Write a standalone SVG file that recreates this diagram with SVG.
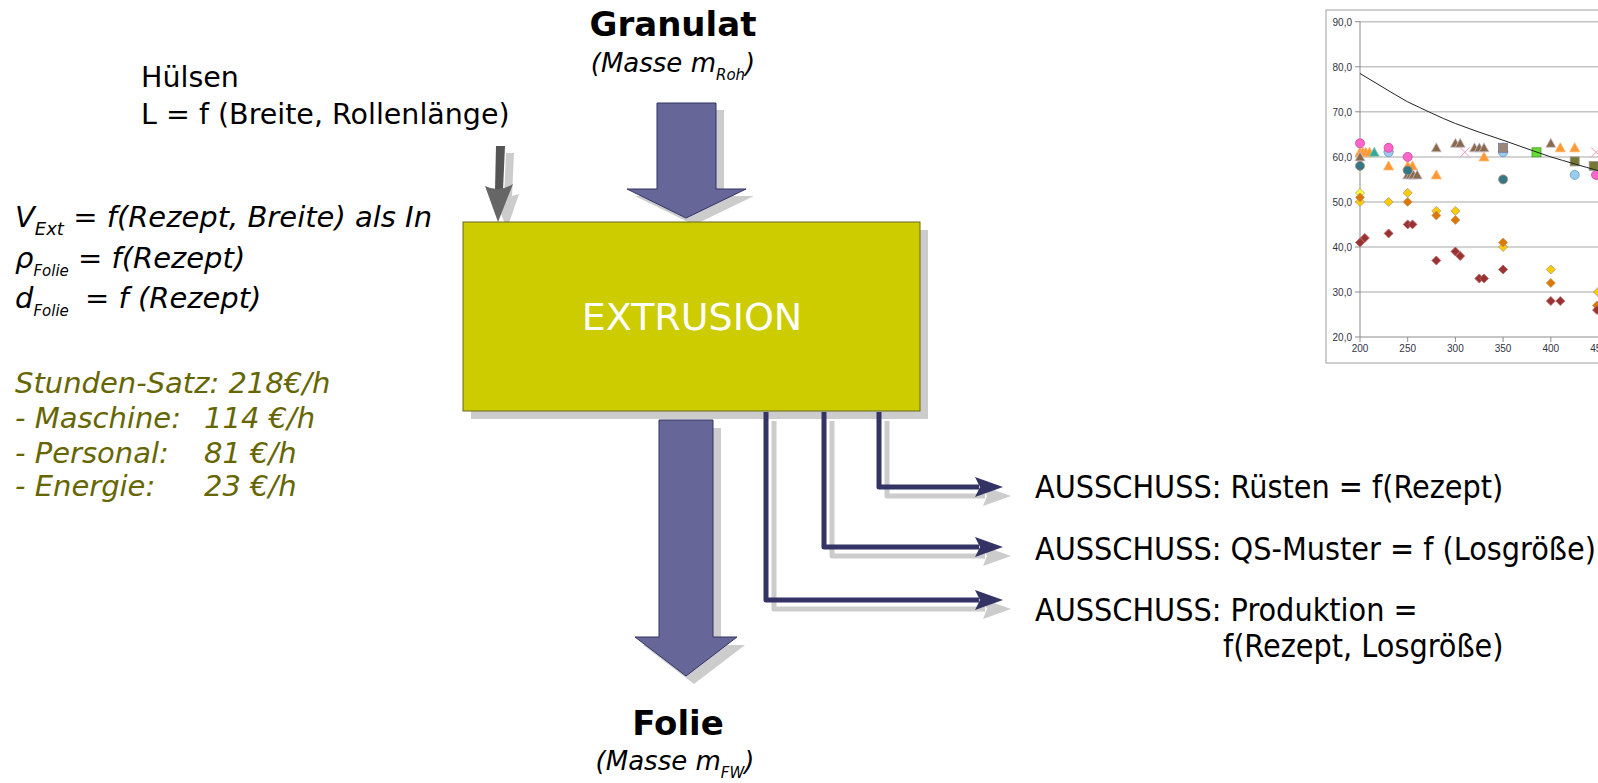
<svg xmlns="http://www.w3.org/2000/svg" width="1598" height="783" viewBox="0 0 1598 783">
<style>
.t{font-family:"DejaVu Sans","Noto Sans",sans-serif;fill:#000}
.tc{font-family:"DejaVu Sans Condensed","DejaVu Sans","Noto Sans",sans-serif;font-stretch:condensed;fill:#000}
.it{font-family:"DejaVu Sans","Noto Sans",sans-serif;font-style:italic;fill:#000}
.ol{fill:#666600}
.bold{font-family:"DejaVu Sans","Noto Sans",sans-serif;font-weight:bold;fill:#000}
.shadow{fill:#cccccc;stroke:none}
.big{fill:#666699;stroke:#333366;stroke-width:1}
.con{fill:none;stroke:#333366;stroke-width:5;stroke-linejoin:round}
.conS{fill:none;stroke:#cccccc;stroke-width:5;stroke-linejoin:round}
.head{fill:#333366}
.grid{stroke:#c4c4c4;stroke-width:1.5}
.ax{stroke:#8c8c8c;stroke-width:1}
.cl{font-family:"Liberation Sans","DejaVu Sans",sans-serif;font-size:10px;fill:#333344}
.mk{stroke-width:0.8}
</style>
<defs>
<path id="tri" d="M-5,4 L5,4 L0,-5 Z"/>
<circle id="cir" r="4.5"/>
<path id="dia" d="M-4.5,0 L0,-4.5 L4.5,0 L0,4.5 Z"/>
<rect id="sq" x="-4.5" y="-4.5" width="9" height="9"/>
<path id="xx" d="M-5,-5 L5,5 M-5,5 L5,-5" fill="none"/>
</defs>
<rect width="1598" height="783" fill="#ffffff"/>

<!-- Chart -->
<g id="chart">
<rect x="1326" y="10" width="290" height="353" fill="#ffffff" stroke="#a0a0a0" stroke-width="1"/>
<g>
<line class="grid" x1="1360" y1="21.7" x2="1598" y2="21.7"/>
<line class="grid" x1="1360" y1="66.8" x2="1598" y2="66.8"/>
<line class="grid" x1="1360" y1="111.8" x2="1598" y2="111.8"/>
<line class="grid" x1="1360" y1="156.9" x2="1598" y2="156.9"/>
<line class="grid" x1="1360" y1="201.9" x2="1598" y2="201.9"/>
<line class="grid" x1="1360" y1="247" x2="1598" y2="247"/>
<line class="grid" x1="1360" y1="292" x2="1598" y2="292"/>
<line class="ax" x1="1360" y1="337" x2="1598" y2="337"/>
<line class="ax" x1="1360" y1="21.7" x2="1360" y2="337"/>
<path class="ax" d="M1355,21.7H1360M1355,66.8H1360M1355,111.8H1360M1355,156.9H1360M1355,201.9H1360M1355,247H1360M1355,292H1360M1355,337H1360M1360,337V342M1407.7,337V342M1455.4,337V342M1503.1,337V342M1550.8,337V342"/>
</g>
<g class="cl" text-anchor="end">
<text x="1352" y="25.5">90,0</text>
<text x="1352" y="70.6">80,0</text>
<text x="1352" y="115.6">70,0</text>
<text x="1352" y="160.7">60,0</text>
<text x="1352" y="205.7">50,0</text>
<text x="1352" y="250.8">40,0</text>
<text x="1352" y="295.8">30,0</text>
<text x="1352" y="340.8">20,0</text>
</g>
<g class="cl" text-anchor="middle">
<text x="1360" y="352">200</text>
<text x="1407.7" y="352">250</text>
<text x="1455.4" y="352">300</text>
<text x="1503.1" y="352">350</text>
<text x="1550.8" y="352">400</text>
<text x="1598.5" y="352">450</text>
</g>
<!-- markers -->
<g class="mk" fill="#ff9933" stroke="#ffb366">
<use href="#tri" x="1360" y="152.3"/><use href="#tri" x="1362.9" y="152.3"/><use href="#tri" x="1365.7" y="152.3"/><use href="#tri" x="1369.5" y="152.3"/>
<use href="#tri" x="1388.6" y="165.9"/><use href="#tri" x="1407.7" y="165.9"/><use href="#tri" x="1412.5" y="165.9"/><use href="#tri" x="1436.3" y="174.9"/>
<use href="#tri" x="1484" y="156.9"/><use href="#tri" x="1503.1" y="147.8"/><use href="#tri" x="1560.3" y="147.8"/><use href="#tri" x="1574.7" y="147.8"/>
</g>
<g class="mk" fill="#33aa99" stroke="#88ccbb"><use href="#tri" x="1374.3" y="152.3"/></g>
<g class="mk" fill="#8b6a4a" stroke="#c8c0d8">
<use href="#tri" x="1360" y="156.9"/><use href="#tri" x="1388.6" y="147.8"/>
<use href="#tri" x="1407.7" y="174.9"/><use href="#tri" x="1410.6" y="174.9"/><use href="#tri" x="1413.4" y="174.9"/><use href="#tri" x="1417.2" y="174.9"/>
<use href="#tri" x="1436.3" y="147.8"/><use href="#tri" x="1455.4" y="143.3"/><use href="#tri" x="1460.2" y="143.3"/>
<use href="#tri" x="1474.5" y="147.8"/><use href="#tri" x="1479.3" y="147.8"/><use href="#tri" x="1484" y="147.8"/><use href="#tri" x="1503.1" y="147.8"/><use href="#tri" x="1550.8" y="143.3"/>
</g>
<g class="mk" fill="#99ccee" stroke="#6699bb">
<use href="#cir" x="1388.6" y="152.3"/><use href="#cir" x="1574.7" y="174.9"/><use href="#cir" x="1598" y="174.9"/><use href="#cir" x="1503.1" y="152.3"/>
</g>
<g class="mk" fill="#ff66cc" stroke="#cc4499">
<use href="#cir" x="1360" y="143.3"/><use href="#cir" x="1388.6" y="147.8"/><use href="#cir" x="1407.7" y="156.9"/><use href="#cir" x="1596" y="174.9"/>
</g>
<g class="mk" fill="#337788" stroke="#aa8866">
<use href="#cir" x="1360" y="165.9"/><use href="#cir" x="1407.7" y="170.4"/><use href="#cir" x="1503.1" y="179.4"/>
</g>
<g fill="none" stroke="#ee99bb" stroke-width="1"><use href="#xx" x="1464.9" y="152.3"/><use href="#xx" x="1596" y="152.3"/></g>
<g class="mk" fill="#66dd33" stroke="#449922"><use href="#sq" x="1536.5" y="152.3"/></g>
<g class="mk" fill="#998877" stroke="#777799"><use href="#sq" x="1503.1" y="147.8"/></g>
<g class="mk" fill="#777733" stroke="#999999">
<use href="#sq" x="1574.7" y="161.4"/><use href="#sq" x="1593.7" y="165.9"/>
</g>
<g class="mk" fill="#ffcc00" stroke="#aa9977">
<use href="#dia" x="1360" y="201.9"/><use href="#dia" x="1388.6" y="201.9"/><use href="#dia" x="1407.7" y="192.9"/>
<use href="#dia" x="1436.3" y="210.9"/><use href="#dia" x="1455.4" y="210.9"/><use href="#dia" x="1503.1" y="247"/><use href="#dia" x="1550.8" y="269.5"/><use href="#dia" x="1598" y="292"/>
</g>
<g class="mk" fill="#ffff33" stroke="#aaaa66"><use href="#dia" x="1360" y="192.9"/></g>
<g class="mk" fill="#dd7700" stroke="#bb9966">
<use href="#dia" x="1360" y="197.4"/><use href="#dia" x="1407.7" y="201.9"/><use href="#dia" x="1436.3" y="215.4"/><use href="#dia" x="1455.4" y="219.9"/>
<use href="#dia" x="1503.1" y="242.5"/><use href="#dia" x="1550.8" y="283"/><use href="#dia" x="1597" y="305.5"/>
</g>
<g class="mk" fill="#993333" stroke="#bb6666">
<use href="#dia" x="1360" y="242.5"/><use href="#dia" x="1364.8" y="237.9"/><use href="#dia" x="1388.6" y="233.4"/><use href="#dia" x="1407.7" y="224.4"/><use href="#dia" x="1412.5" y="224.4"/>
<use href="#dia" x="1436.3" y="260.5"/><use href="#dia" x="1455.4" y="251.5"/><use href="#dia" x="1460.2" y="256"/><use href="#dia" x="1479.3" y="278.5"/><use href="#dia" x="1484" y="278.5"/>
<use href="#dia" x="1503.1" y="269.5"/><use href="#dia" x="1550.8" y="301"/><use href="#dia" x="1560.3" y="301"/><use href="#dia" x="1597" y="310"/>
</g>
<path d="M1360,73.5 C1376,83 1392,93 1407.7,101.9 C1423,109 1439,117 1455.4,123.5 C1471,129.5 1487,135 1503.1,140.2 C1519,146 1535,151.5 1550.8,156.9 C1566,161.5 1582,166 1598.5,170.8" fill="none" stroke="#222222" stroke-width="1"/>
</g>

<!-- Hülsen input -->
<g id="huelsen">
<text class="t" x="141" y="87" font-size="28.5">Hülsen</text>
<text class="t" x="141" y="124" font-size="28.5">L = f (Breite, Rollenlänge)</text>
<path class="shadow" d="M506,153 L514,153 L512,196 L519,194 L507,229 L494,196 L504,197 Z"/>
<path d="M496,146 L505,146 L503,190 L495,190 Z" fill="#555555"/>
<path d="M485,186 Q499,193 513,184 L498,222 Z" fill="#666666"/>
</g>

<!-- Granulat input -->
<g id="granulat">
<text class="bold" x="673" y="36" font-size="34" text-anchor="middle">Granulat</text>
<text class="it" x="673" y="72" font-size="26" text-anchor="middle">(Masse m<tspan font-size="15" dy="8">Roh</tspan><tspan dy="-8">)</tspan></text>
<polygon class="shadow" points="665,110 724,110 724,196 754,196 694,225 635,196 665,196"/>
<polygon class="big" points="657,103 716,103 716,189 746,189 686,218 627,189 657,189"/>
</g>

<!-- Extrusion -->
<g id="extrusion">
<rect class="shadow" x="471" y="230" width="457" height="189"/>
<rect x="463" y="222" width="457" height="189" fill="#cccc00" stroke="#66661a" stroke-width="1"/>
<text x="692" y="330" font-family="DejaVu Sans, sans-serif" font-size="38" fill="#ffffff" text-anchor="middle">EXTRUSION</text>
</g>

<!-- Left parameters -->
<g id="params">
<text class="it" x="15" y="227" font-size="29">V<tspan font-size="18" dy="8">Ext</tspan><tspan dy="-8"> = f(Rezept, Breite) als In</tspan></text>
<text class="it" x="15" y="268" font-size="29">ρ<tspan font-size="15" dy="8">Folie</tspan><tspan dy="-8"> = f(Rezept)</tspan></text>
<text class="it" x="15" y="308" font-size="29">d<tspan font-size="15" dy="8">Folie</tspan><tspan dy="-8" dx="7"> = f (Rezept)</tspan></text>
<text class="it ol" x="15" y="393" font-size="29">Stunden-Satz: 218€/h</text>
<text class="it ol" x="15" y="428" font-size="29">- Maschine:<tspan x="204">114 €/h</tspan></text>
<text class="it ol" x="15" y="463" font-size="29">- Personal:<tspan x="204">81 €/h</tspan></text>
<text class="it ol" x="15" y="496" font-size="29">- Energie:<tspan x="204">23 €/h</tspan></text>
</g>

<!-- Folie output -->
<g id="folie">
<polygon class="shadow" points="667,428 721,428 721,645 745,645 694,684 643,645 667,645"/>
<polygon class="big" points="659,420 713,420 713,637 737,637 686,676 635,637 659,637"/>
<text class="bold" x="678" y="735" font-size="34" text-anchor="middle">Folie</text>
<text class="it" x="675" y="770" font-size="26" text-anchor="middle">(Masse m<tspan font-size="15" dy="8">FW</tspan><tspan dy="-8">)</tspan></text>
</g>

<!-- Connectors -->
<g id="connectors">
<path class="conS" d="M887,421 V496 H985"/>
<path class="conS" d="M832,421 V556 H985"/>
<path class="conS" d="M774,421 V609 H985"/>
<path class="shadow" d="M983,486 L1011,496 L983,506 L987,496 Z"/>
<path class="shadow" d="M983,546 L1011,556 L983,566 L987,556 Z"/>
<path class="shadow" d="M983,599 L1011,609 L983,619 L987,609 Z"/>
<path class="con" d="M879,412 V487 H979"/>
<path class="con" d="M824,412 V547 H979"/>
<path class="con" d="M766,412 V600 H979"/>
<path class="head" d="M975,477 L1003,487 L975,497 L980,487 Z"/>
<path class="head" d="M975,537 L1003,547 L975,557 L980,547 Z"/>
<path class="head" d="M975,590 L1003,600 L975,610 L980,600 Z"/>
</g>

<!-- Output labels -->
<g id="outputs">
<text class="tc" x="1035" y="498" font-size="32">AUSSCHUSS: Rüsten = f(Rezept)</text>
<text class="tc" x="1035" y="560" font-size="32">AUSSCHUSS: QS-Muster = f (Losgröße)</text>
<text class="tc" x="1035" y="621" font-size="32">AUSSCHUSS: Produktion =</text>
<text class="tc" x="1223" y="657" font-size="32">f(Rezept, Losgröße)</text>
</g>
</svg>
